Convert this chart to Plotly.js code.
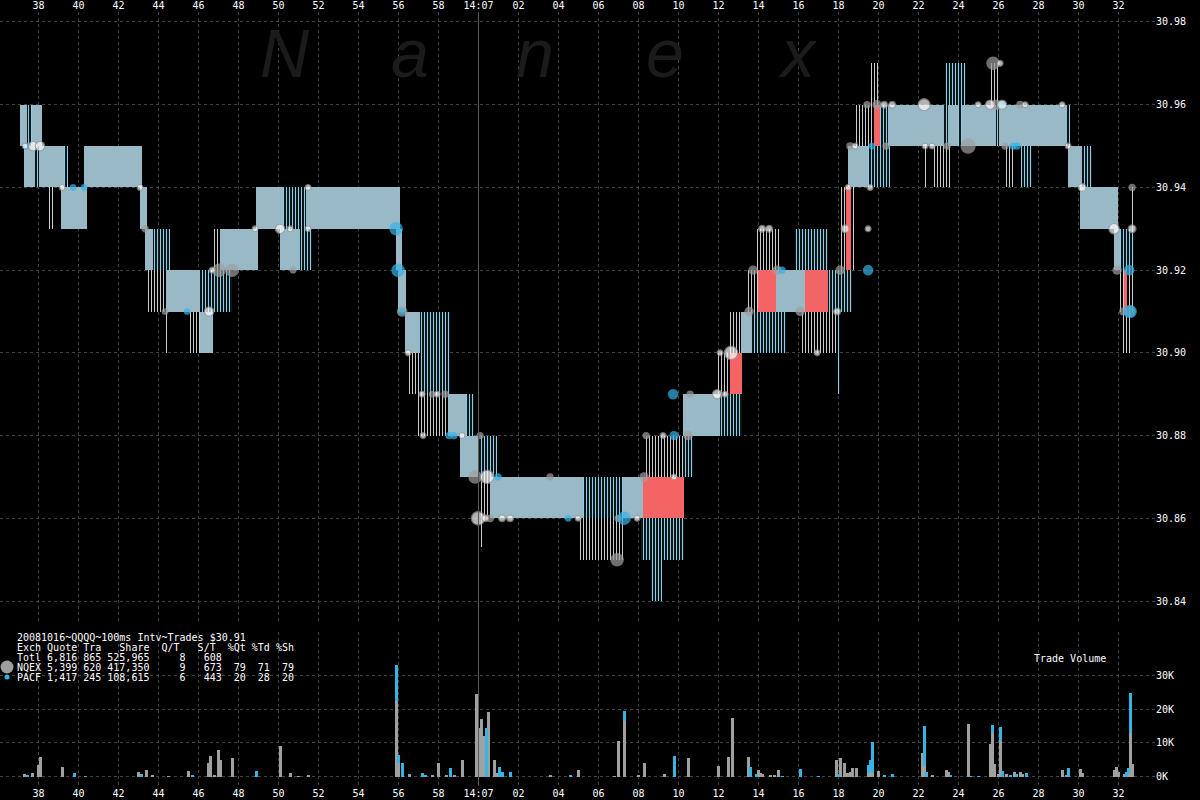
<!DOCTYPE html>
<html><head><meta charset="utf-8">
<script src="https://cdn.plot.ly/plotly-3.0.1.min.js"></script>
<style>html,body{margin:0;padding:0;background:#000;}#chart{width:1200px;height:800px;}</style>
</head><body><div id="chart"></div>
<script>
// ---- axis ticks ----
const timeTicks = [38,40,42,44,46,48,50,52,54,56,58,60,62,64,66,68,70,72,74,76,78,80,82,84,86,88,90,92];
const timeTickText = ["38","40","42","44","46","48","50","52","54","56","58","14:07","02","04","06","08","10","12","14","16","18","20","22","24","26","28","30","32"];
const priceTicks = [30.84,30.86,30.88,30.90,30.92,30.94,30.96,30.98];
const volTicks = [0,10000,20000,30000];
const volTickText = ["0K","10K","20K","30K"];

// ---- quote segments (seconds after 14:06:00) ----
const qStart = [37.08,37.43,37.68,37.28,37.83,38.03,39.28,38.53,39.13,40.28,43.08,43.33,43.73,43.48,44.38,46.08,44.28,45.58,46.08,46.68,47.08,48.88,50.23,51.38,50.08,51.08,55.88,55.98,56.33,57.08,56.48,57.08,56.98,58.48,59.38,59.08,59.98,59.88,60.58,65.23,67.23,59.98,64.98,68.23,68.13,68.63,68.28,70.23,70.23,72.08,71.98,72.58,72.48,73.13,73.68,73.48,73.98,74.88,76.33,77.48,73.83,75.83,76.08,77.98,78.08,78.38,78.48,79.48,78.88,79.78,80.08,80.48,83.28,83.48,83.98,84.18,85.88,86.03,89.43,79.58,83.33,85.58,82.28,82.78,86.38,87.13,89.48,90.18,90.08,91.78,92.08,91.98,92.28,92.18,92.63];
const qEnd   = [37.43,37.68,38.18,37.83,38.03,39.28,39.48,38.78,40.43,43.18,43.43,43.73,44.58,44.38,46.08,47.68,44.43,46.08,46.73,47.08,48.98,50.23,51.38,56.08,51.08,51.68,56.18,56.38,57.08,58.58,57.08,58.58,58.48,59.38,59.78,59.98,60.93,60.58,65.23,67.23,68.23,60.18,67.33,70.28,70.28,69.18,70.23,70.73,72.08,73.18,72.58,73.18,73.13,73.68,75.38,73.98,74.88,76.33,77.48,78.68,75.03,77.48,77.93,78.08,78.78,78.63,79.48,80.58,79.78,80.08,80.48,83.28,83.48,83.98,84.18,85.88,86.03,89.43,89.58,79.98,84.38,86.08,82.48,83.58,86.83,87.68,90.18,90.68,91.98,92.08,92.78,92.78,92.43,92.63,92.73];
const qBid   = [30.95,30.95,30.95,30.94,30.94,30.94,30.94,30.93,30.93,30.94,30.93,30.92,30.92,30.91,30.91,30.91,30.90,30.90,30.90,30.92,30.92,30.93,30.93,30.93,30.92,30.92,30.92,30.91,30.90,30.90,30.89,30.89,30.88,30.88,30.88,30.87,30.87,30.86,30.86,30.86,30.86,30.853,30.85,30.86,30.85,30.84,30.87,30.87,30.88,30.88,30.89,30.89,30.90,30.90,30.90,30.91,30.91,30.91,30.91,30.91,30.92,30.92,30.90,30.89,30.92,30.92,30.94,30.94,30.95,30.95,30.95,30.95,30.95,30.95,30.95,30.95,30.95,30.95,30.95,30.96,30.96,30.96,30.94,30.94,30.94,30.94,30.94,30.94,30.93,30.92,30.92,30.91,30.91,30.90,30.93];
const qAsk   = [30.96,30.96,30.96,30.95,30.95,30.95,30.95,30.94,30.94,30.95,30.94,30.93,30.93,30.92,30.92,30.92,30.91,30.91,30.91,30.93,30.93,30.94,30.94,30.94,30.93,30.93,30.93,30.92,30.91,30.91,30.90,30.90,30.89,30.89,30.89,30.88,30.88,30.87,30.87,30.87,30.87,30.86,30.86,30.87,30.86,30.85,30.88,30.88,30.89,30.89,30.90,30.90,30.91,30.91,30.91,30.92,30.92,30.92,30.92,30.92,30.93,30.93,30.91,30.91,30.94,30.94,30.95,30.95,30.96,30.96,30.96,30.96,30.96,30.96,30.96,30.96,30.96,30.96,30.96,30.97,30.97,30.97,30.95,30.95,30.95,30.95,30.95,30.95,30.94,30.93,30.93,30.92,30.92,30.91,30.94];
// S = steady quote, G = flicker (NQEX), B = flicker (PACF), R = crossed
const qKind  = ["S","B","S","S","B","S","B","G","S","S","S","S","B","G","S","B","G","G","S","G","S","S","B","S","S","B","S","S","S","B","G","B","G","S","B","S","B","G","S","B","S","G","G","R","B","B","G","B","S","B","G","R","G","S","B","G","R","S","R","B","G","B","G","B","G","R","S","B","G","R","B","S","B","S","B","S","B","S","B","G","B","G","G","G","G","B","S","B","S","S","B","G","R","G","G"];

// ---- trades ----
const nqTime  = [43.33,44.33,47.03,47.68,50.73,56.18,57.68,58.33,60.08,59.83,60.58,63.58,66.98,66.93,68.28,68.38,70.48,70.58,73.53,76.08,73.73,74.93,78.08,79.43,79.93,80.38,83.43,84.48,86.33,87.08,85.73,85.88,92.68,91.93,92.23,92.58,78.58];
const nqPrice = [30.93,30.91,30.92,30.92,30.92,30.91,30.89,30.89,30.88,30.87,30.86,30.87,30.86,30.85,30.87,30.88,30.88,30.89,30.91,30.91,30.92,30.92,30.92,30.96,30.96,30.95,30.95,30.95,30.95,30.96,30.97,30.96,30.94,30.92,30.91,30.91,30.95];
const nqShares= [300,200,2500,2500,200,1200,200,300,300,2500,400,300,300,2500,800,300,800,300,800,800,800,800,800,300,800,300,300,3500,300,400,2500,1200,300,800,400,1500,400];

const pcTime  = [37.38,39.73,40.28,45.43,55.88,55.98,58.53,58.78,60.98,64.48,67.28,69.78,69.73,75.18,79.48,79.68,86.73,86.93,92.58,92.53,86.18,56.18];
const pcPrice = [30.95,30.94,30.94,30.91,30.93,30.92,30.88,30.88,30.87,30.86,30.86,30.88,30.89,30.92,30.92,30.95,30.95,30.95,30.91,30.92,30.96,30.91];
const pcShares= [200,200,200,200,2500,2500,300,300,300,200,2500,800,1200,300,1200,200,300,300,2500,1200,300,200];

const hiTime  = [37.33,37.73,38.08,39.18,43.08,46.53,46.68,48.83,50.08,50.58,51.48,51.48,56.48,57.18,57.93,57.23,59.18,60.43,59.98,60.33,61.18,61.58,64.98,67.93,69.23,69.78,71.93,72.33,72.08,72.63,74.18,74.53,77.93,78.33,79.48,76.93,78.48,79.58,78.83,82.33,82.68,80.28,80.68,82.28,84.98,85.58,86.18,89.18,87.33,89.48,90.18,91.78,92.68,86.08];
const hiPrice = [30.95,30.95,30.95,30.94,30.94,30.91,30.92,30.93,30.93,30.93,30.94,30.93,30.90,30.89,30.89,30.88,30.88,30.87,30.86,30.86,30.86,30.86,30.86,30.86,30.88,30.87,30.89,30.89,30.90,30.90,30.93,30.93,30.91,30.93,30.93,30.90,30.94,30.94,30.95,30.95,30.95,30.96,30.96,30.96,30.96,30.96,30.96,30.96,30.96,30.95,30.94,30.93,30.93,30.97];
const hiShares= [100,800,800,100,100,800,100,100,800,100,100,100,100,100,100,100,100,2500,2500,200,200,200,100,100,100,100,800,100,100,2500,200,200,200,400,100,100,100,100,100,100,100,200,200,1800,100,800,800,100,100,100,400,1200,400,100];

// ---- trade volume per 100ms ----
const volTime = [37.3,37.45,37.7,38.0,38.1,39.2,39.8,40.35,43.0,43.15,43.4,43.7,44.5,45.5,45.7,46.5,46.6,46.8,47.0,47.1,47.7,48.9,50.1,50.6,51.0,51.5,55.9,56.0,56.2,56.55,57.2,57.35,57.7,58.0,58.4,58.6,58.8,59.2,59.9,60.0,60.15,60.3,60.4,60.5,60.8,60.95,61.05,61.2,61.6,63.6,64.6,65.0,66.8,67.0,67.3,68.0,68.3,69.3,69.8,70.5,72.0,72.5,72.7,73.5,73.6,73.9,74.0,74.1,74.2,74.6,74.8,75.0,75.2,76.1,77.0,77.9,78.0,78.1,78.3,78.4,78.5,78.6,78.7,78.9,79.5,79.6,79.7,80.0,80.3,80.7,82.2,82.3,82.4,82.7,83.4,83.5,83.6,84.5,84.6,85.0,85.6,85.7,85.8,86.0,86.1,86.2,86.4,86.6,86.8,86.9,87.1,87.2,87.4,89.2,89.4,89.5,90.1,90.2,91.8,91.9,92.0,92.3,92.4,92.5,92.6,92.7];
const volNQEX = [600,0,900,3300,5900,2700,0,0,1200,0,1800,400,150,1500,0,3900,6200,400,7800,5000,5400,0,9000,900,150,400,22400,4100,0,300,0,0,400,3900,300,0,300,5000,24400,14500,17000,12000,0,19300,5000,900,0,0,0,400,0,1800,100,10400,16400,300,4100,600,0,5600,3000,5900,17500,5900,0,0,1800,900,600,300,300,1800,0,0,0,4800,0,5600,4100,1100,900,1200,2400,2400,1100,1500,1000,1500,0,0,7000,3000,0,300,1800,1200,0,15700,0,0,9800,13000,3600,600,10500,0,600,0,1200,0,1200,600,0,1800,300,0,2100,900,1800,2700,1200,600,0,800,13000,3600];
const volPACF = [0,300,0,0,0,0,900,100,0,600,0,0,0,0,400,0,0,0,0,0,0,1500,0,0,0,0,10700,2400,3900,300,900,300,0,0,0,2400,0,0,0,0,0,0,14300,0,0,0,2900,1300,1200,0,300,0,0,0,3200,0,0,0,6200,0,0,0,0,0,2700,600,0,0,0,0,0,0,100,2100,100,0,600,0,0,0,0,0,0,0,2200,3500,9100,0,300,600,0,12100,1200,0,0,0,300,0,100,100,0,2200,0,0,4300,1500,0,300,0,600,0,0,900,0,0,2400,0,0,0,0,0,0,1200,1600,11700,0];

// ---- build traces ----
const kindStyle = {
  S: {pattern:{shape:"|", fillmode:"replace", fgcolor:"#8ccde8", bgcolor:"#a6a6a6", size:2, solidity:0.5}},
  G: {pattern:{shape:"|", fillmode:"replace", fgcolor:"#cccccc", bgcolor:"#000000", size:3, solidity:0.34}},
  B: {pattern:{shape:"|", fillmode:"replace", fgcolor:"#8ccde8", bgcolor:"#000000", size:3, solidity:0.4}},
  R: {color:"#f46464"}
};
function quoteTrace(kind){
  const idx = qKind.map((k,i)=>k===kind?i:-1).filter(i=>i>=0);
  const m = Object.assign({line:{width:0}}, kindStyle[kind]);
  if(!m.color) m.color = m.pattern.bgcolor;
  return {type:"bar", xaxis:"x", yaxis:"y",
    x: idx.map(i=>(qStart[i]+qEnd[i])/2),
    width: idx.map(i=>qEnd[i]-qStart[i]),
    base: idx.map(i=>qBid[i]),
    y: idx.map(i=>+(qAsk[i]-qBid[i]).toFixed(4)),
    marker:m, hoverinfo:"skip"};
}
const sz = s => 4 + 1.9*Math.sqrt(s/100);
function tradeTrace(t,p,s,fill,line){
  return {type:"scatter", mode:"markers", xaxis:"x", yaxis:"y", x:t, y:p,
    marker:{size:s.map(sz), color:fill, line:{color:line, width:line?1.2:0}},
    hoverinfo:"skip", cliponaxis:false};
}
const traces = [
  quoteTrace("S"), quoteTrace("G"), quoteTrace("B"), quoteTrace("R"),
  tradeTrace(nqTime,nqPrice,nqShares,"#9e9e9e",null),
  tradeTrace(pcTime,pcPrice,pcShares,"#35b4e6",null),
  tradeTrace(hiTime,hiPrice,hiShares,"#ffffff","#9a9a9a"),
  {type:"bar", xaxis:"x2", yaxis:"y2", x:volTime, y:volNQEX, base:volTime.map(()=>0),
   width:volTime.map(()=>0.14), marker:{color:"#a0a0a0", line:{width:0}}, hoverinfo:"skip"},
  {type:"bar", xaxis:"x2", yaxis:"y2", x:volTime, y:volPACF, base:volNQEX.slice(),
   width:volTime.map(()=>0.14), marker:{color:"#35b4e6", line:{width:0}}, hoverinfo:"skip"}
];

// ---- layout ----
const W = 1155, T = 12, B = 786, H = B - T;
const px = x => x / W;
const py = y => (B - y) / H;
const mono = "DejaVu Sans Mono, monospace";
const gridCol = "#444444";
const axisCommon = {showgrid:true, gridcolor:gridCol, griddash:"3px,3px", gridwidth:1,
  zeroline:false, showline:false, ticks:"", tickfont:{family:mono, size:10, color:"#ffffff"}};

const legendLines = [
  "20081016~QQQQ~100ms Intv~Trades $30.91",
  "Exch Quote Tra   Share  Q/T   S/T  %Qt %Td %Sh",
  "Totl 6,816 865 525,965     8   608",
  "NQEX 5,399 620 417,350     9   673  79  71  79",
  "PACF 1,417 245 108,615     6   443  20  28  20"
];
const legendY = [637,647,657,667,677];
const annotations = legendLines.map((t,i)=>({xref:"paper", yref:"paper", x:px(15), y:py(legendY[i]),
  xanchor:"left", yanchor:"middle", text:t.replace(/ /g,"&nbsp;"), showarrow:false,
  font:{family:mono, size:10, color:"#ffffff"}}));
annotations.push({xref:"paper", yref:"paper", x:px(1032), y:py(658), xanchor:"left", yanchor:"middle",
  text:"Trade&nbsp;Volume", showarrow:false, font:{family:mono, size:10, color:"#ffffff"}});
const wmLetters = ["N","a","n","e","x"], wmX = [285,410,535,665,797];
wmLetters.forEach((l,i)=>annotations.push({xref:"paper", yref:"paper", x:px(wmX[i]), y:py(53),
  xanchor:"center", yanchor:"middle", text:l, showarrow:false,
  font:{family:"Liberation Sans, Arial, sans-serif", size:68, color:"#1b1b1b", style:"italic"}}));

const shapes = [
  {type:"line", xref:"x", yref:"paper", x0:60, x1:60, y0:0, y1:1, line:{color:"#5c5c5c", width:1}, layer:"above"},
  {type:"circle", xref:"paper", yref:"paper", xsizemode:"pixel", ysizemode:"pixel",
   xanchor:px(7), yanchor:py(667), x0:-6.5, x1:6.5, y0:-6.5, y1:6.5, fillcolor:"#9e9e9e", line:{width:0}},
  {type:"circle", xref:"paper", yref:"paper", xsizemode:"pixel", ysizemode:"pixel",
   xanchor:px(7), yanchor:py(677), x0:-2.5, x1:2.5, y0:-2.5, y1:2.5, fillcolor:"#35b4e6", line:{width:0}}
];

const layout = {
  width:1200, height:800, paper_bgcolor:"#000", plot_bgcolor:"#000",
  margin:{l:0, r:45, t:T, b:800-B}, showlegend:false, barmode:"overlay", bargap:0,
  font:{family:mono, size:10, color:"#ffffff"},
  xaxis:Object.assign({}, axisCommon, {anchor:"y", side:"top", range:[36.075, 36.075 + W/20],
    tickmode:"array", tickvals:timeTicks, ticktext:timeTickText}),
  xaxis2:Object.assign({}, axisCommon, {anchor:"y2", side:"bottom", matches:"x", range:[36.075, 36.075 + W/20],
    tickmode:"array", tickvals:timeTicks, ticktext:timeTickText}),
  yaxis:Object.assign({}, axisCommon, {domain:[py(622), 1], side:"right",
    range:[30.84 - 21/4140, 30.98 + 10/4140],
    tickmode:"array", tickvals:priceTicks, ticktext:priceTicks.map(v=>v.toFixed(2))}),
  yaxis2:Object.assign({}, axisCommon, {domain:[0, py(632)], side:"right",
    range:[-9.5/0.003367, 144.5/0.003367],
    tickmode:"array", tickvals:volTicks, ticktext:volTickText}),
  annotations:annotations, shapes:shapes
};
Plotly.newPlot("chart", traces, layout, {staticPlot:true, displayModeBar:false});
</script></body></html>
